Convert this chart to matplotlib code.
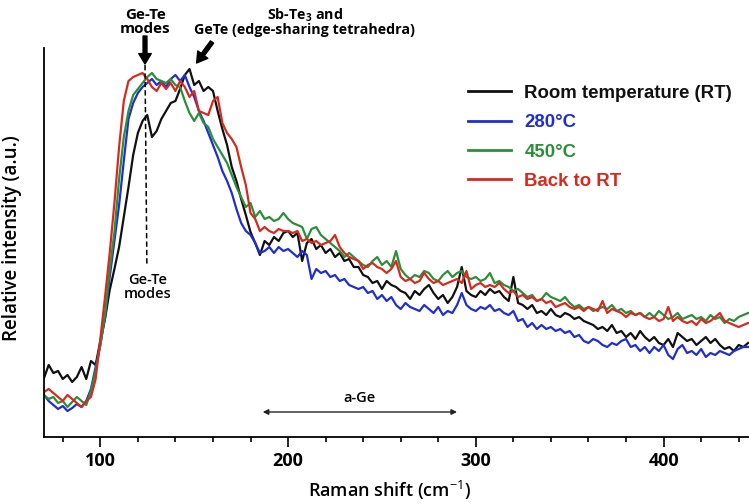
import numpy as np
import matplotlib
matplotlib.use("Agg")
import matplotlib.pyplot as plt
from matplotlib.ticker import MultipleLocator

plt.rcParams["font.family"] = ["Open Sans", "DejaVu Sans"]
plt.rcParams["mathtext.fontset"] = "custom"
plt.rcParams["mathtext.rm"] = "Open Sans"
plt.rcParams["mathtext.bf"] = "Open Sans:bold"

# Raman shift grid (cm-1), 2.5 cm-1 steps from 70 to 445
raman_shift = np.arange(70, 445.1, 2.5)

# relative intensities (a.u.)
rt = [
    59, 72, 64, 66, 58, 62, 55, 60, 70, 58,
    76, 72, 96, 118, 147, 168, 190, 220, 250, 282,
    304, 316, 322, 300, 306, 318, 326, 334, 336, 348,
    362, 368, 352, 356, 346, 350, 346, 326, 308, 292,
    270, 256, 238, 222, 205, 194, 182, 196, 192, 200,
    196, 204, 206, 200, 204, 176, 194, 198, 188, 192,
    184, 188, 180, 184, 176, 178, 170, 170, 162, 160,
    154, 156, 148, 156, 152, 150, 146, 144, 138, 146,
    142, 148, 152, 144, 138, 142, 134, 140, 150, 170,
    146, 142, 140, 146, 142, 148, 144, 146, 140, 136,
    160, 134, 132, 128, 132, 124, 126, 122, 128, 122,
    120, 124, 122, 118, 120, 116, 114, 112, 108, 110,
    106, 112, 104, 106, 100, 104, 98, 106, 100, 96,
    100, 94, 92, 98, 90, 104, 100, 96, 98, 92,
    96, 100, 94, 98, 92, 88, 90, 86, 92, 90,
    94,
]
t280 = [
    42, 36, 32, 28, 31, 26, 29, 33, 30, 36,
    48, 70, 92, 120, 160, 196, 232, 276, 318, 334,
    344, 350, 354, 358, 352, 356, 350, 358, 362, 356,
    362, 350, 340, 326, 316, 304, 292, 280, 266, 256,
    244, 228, 214, 206, 202, 194, 184, 186, 190, 184,
    190, 186, 188, 184, 180, 186, 182, 158, 168, 164,
    166, 160, 162, 156, 158, 152, 150, 148, 150, 144,
    146, 138, 142, 136, 140, 132, 128, 134, 130, 128,
    126, 132, 128, 124, 130, 122, 126, 124, 132, 144,
    132, 128, 126, 130, 128, 132, 126, 128, 124, 122,
    126, 116, 118, 110, 114, 108, 112, 108, 110, 106,
    108, 104, 106, 100, 102, 96, 94, 98, 96, 92,
    90, 94, 92, 96, 98, 90, 92, 86, 90, 84,
    90, 86, 92, 82, 78, 88, 92, 84, 86, 82,
    88, 80, 84, 82, 86, 84, 82, 86, 88, 90,
    90,
]
t450 = [
    42, 38, 40, 34, 36, 30, 35, 40, 36, 32,
    46, 66, 92, 122, 167, 205, 258, 300, 326, 342,
    348, 354, 360, 364, 358, 356, 354, 358, 352, 350,
    336, 324, 316, 324, 314, 310, 298, 290, 282, 274,
    262, 250, 240, 230, 234, 220, 226, 218, 220, 216,
    218, 224, 218, 214, 212, 210, 198, 208, 210, 202,
    198, 194, 190, 186, 180, 184, 180, 176, 172, 170,
    176, 180, 172, 176, 170, 186, 168, 162, 158, 162,
    160, 166, 164, 158, 156, 162, 166, 160, 164, 166,
    160, 158, 160, 156, 158, 164, 154, 156, 152, 150,
    146, 148, 144, 140, 142, 136, 138, 144, 140, 138,
    136, 140, 134, 130, 132, 128, 130, 126, 128, 130,
    128, 132, 126, 128, 124, 126, 122, 124, 120, 124,
    120, 126, 122, 118, 120, 124, 118, 120, 122, 118,
    120, 116, 122, 118, 120, 114, 118, 116, 120, 122,
    124,
]
back_rt = [
    45, 48, 44, 40, 36, 42, 38, 34, 30, 36,
    40, 58, 98, 140, 184, 234, 290, 336, 356, 360,
    362, 364, 358, 350, 346, 354, 348, 354, 346, 356,
    350, 340, 346, 326, 324, 322, 336, 340, 314, 304,
    298, 290, 270, 252, 224, 218, 206, 210, 206, 204,
    208, 206, 206, 204, 206, 196, 198, 194, 196, 192,
    194, 196, 202, 190, 184, 180, 178, 176, 168, 172,
    174, 170, 168, 164, 168, 176, 160, 156, 158, 154,
    156, 164, 158, 154, 156, 152, 154, 156, 158, 154,
    166, 148, 152, 154, 150, 152, 150, 154, 148, 144,
    146, 140, 142, 138, 140, 136, 138, 134, 136, 130,
    132, 134, 130, 128, 130, 126, 130, 128, 126, 136,
    124, 128, 126, 124, 120, 124, 122, 124, 120, 118,
    120, 116, 118, 130, 116, 120, 116, 114, 116, 112,
    118, 114, 116, 120, 124, 116, 114, 112, 110, 112,
    114,
]

labels = ["Room temperature (RT)", "280°C", "450°C", "Back to RT"]
line_colors = ["#111111", "#1f2ed4", "#2b8f3a", "#d62a1e"]
series = [rt, t280, t450, back_rt]

fig = plt.figure(figsize=(7.49, 5.04), dpi=100)
ax = fig.add_axes([44 / 749, 67 / 504, 705 / 749, 389 / 504])

for vals, lab, col in zip(series, labels, line_colors):
    ax.plot(raman_shift, vals, color=col, lw=1.6, label=lab)

ax.set_xlim(70, 445.5)
ax.set_ylim(0, 389)
ax.set_yticks([])
ax.set_xticks([100, 200, 300, 400])
ax.xaxis.set_minor_locator(MultipleLocator(20))
ax.tick_params(axis="x", which="major", direction="out", length=7, width=1.2,
               labelsize=13, pad=4)
ax.tick_params(axis="x", which="minor", direction="out", length=3.5, width=1.2)
for lbl in ax.get_xticklabels():
    lbl.set_fontweight("bold")

for side in ["top", "right"]:
    ax.spines[side].set_visible(False)
for side in ["left", "bottom"]:
    ax.spines[side].set_linewidth(1.3)

ax.set_xlabel("Raman shift (cm$^{-1}$)", fontsize=13, fontweight="semibold")
ax.set_ylabel("Relative intensity (a.u.)", fontsize=13.5, fontweight="semibold")
ax.xaxis.set_label_coords(0.49, -0.108)
ax.yaxis.set_label_coords(-0.031, 0.512)

leg = ax.legend(loc="upper left", bbox_to_anchor=(0.601, 0.905), frameon=False,
                borderaxespad=0, borderpad=0, handlelength=2.35, handletextpad=0.7,
                labelspacing=0.66, labelcolor="linecolor",
                prop={"family": "Liberation Sans", "weight": "bold", "size": 13.4})
for h in leg.get_lines():
    h.set_linewidth(2.0)

# Ge-Te modes marker (top)
gete_x = 123.8
ax.annotate("Ge-Te\nmodes", xy=(gete_x, 415), ha="center", va="center",
            fontsize=11, fontweight="bold", linespacing=0.95,
            annotation_clip=False)
ax.annotate("", xy=(gete_x, 373), xytext=(gete_x, 401), annotation_clip=False,
            arrowprops=dict(facecolor="black", edgecolor="black", width=2.8,
                            headwidth=9, headlength=7.5, shrink=0))
ax.plot([gete_x, gete_x + 1], [372, 172], color="black", lw=1.1,
        dashes=(3.5, 2))
ax.text(gete_x + 1.2, 150, "Ge-Te\nmodes", ha="center", va="center",
        fontsize=10.5, fontweight="semibold", linespacing=0.95)

# Sb-Te3 / edge-sharing GeTe marker
ax.annotate("Sb-Te$_\\mathbf{3}$ and\nGeTe (edge-sharing tetrahedra)",
            xy=(209, 415), ha="center", va="center", fontsize=10.3,
            fontweight="bold", linespacing=0.95, annotation_clip=False)
ax.annotate("", xy=(151.3, 374), xytext=(159.5, 395), annotation_clip=False,
            arrowprops=dict(facecolor="black", edgecolor="black", width=2.8,
                            headwidth=9, headlength=7.5, shrink=0))

# a-Ge range
ax.annotate("", xy=(186.5, 25), xytext=(290, 25),
            arrowprops=dict(arrowstyle="<|-|>", color="#222222", lw=1.0,
                            mutation_scale=8, shrinkA=0, shrinkB=0))
ax.text(238, 39, "a-Ge", ha="center", va="center", fontsize=10.5,
        fontweight="semibold")

fig.savefig("out.png", dpi=100)
